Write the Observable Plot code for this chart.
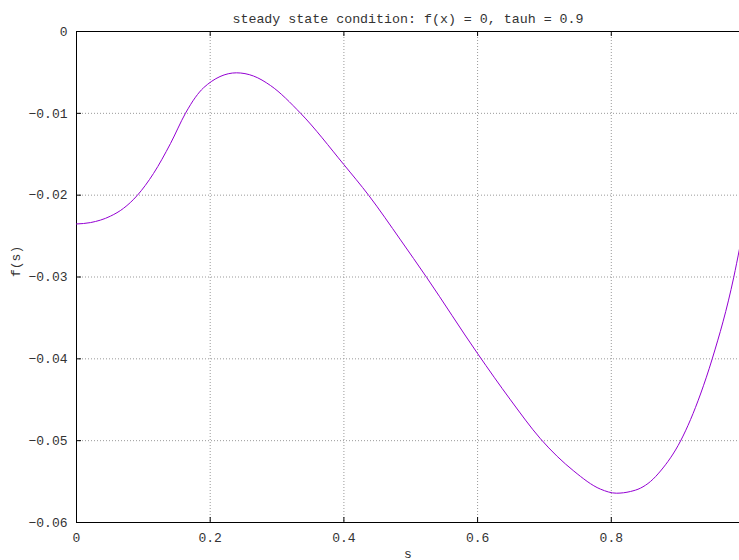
<!DOCTYPE html>
<html>
<head>
<meta charset="utf-8">
<script src="https://cdn.jsdelivr.net/npm/d3@7"></script>
<script src="https://cdn.jsdelivr.net/npm/@observablehq/plot@0.6"></script>
<style>
  html, body { margin: 0; padding: 0; background: #fff; }
  #chart svg { display: block; }
</style>
</head>
<body>
<div id="chart"></div>
<script>
const titleText = "steady state condition: f(x) = 0, tauh = 0.9";
const xLabel = "s";
const yLabel = "f(s)";
const xTicks = [0, 0.2, 0.4, 0.6, 0.8];
const yTicks = [0, -0.01, -0.02, -0.03, -0.04, -0.05, -0.06];
const sValues = [0, 0.0209, 0.0509, 0.0703, 0.0908, 0.1152, 0.1406, 0.1631, 0.1780, 0.1900,
  0.2393, 0.2648, 0.2902, 0.3351, 0.3998, 0.4373, 0.4847, 0.5236, 0.6003,
  0.6492, 0.6941, 0.7439, 0.7838, 0.8078, 0.8287, 0.8437, 0.8586, 0.8736,
  0.9036, 0.9335, 0.9510, 0.9832, 0.9918];
const fValues = [-0.02352, -0.02335, -0.02256, -0.02161, -0.02004, -0.01735, -0.01369, -0.00998, -0.00803, -0.00688,
  -0.00505, -0.00544, -0.00660, -0.00998, -0.01625, -0.02004, -0.02546, -0.03003, -0.03939,
  -0.04501, -0.04977, -0.05371, -0.05592, -0.05642, -0.05621, -0.05580, -0.05499, -0.05371,
  -0.05004, -0.04430, -0.04000, -0.03003, -0.02656];

const data = sValues.map((s, i) => ({s, f: fValues[i]}));
const xMin = 0, xMax = 0.9918, yMin = -0.06, yMax = 0;

const W = 739, H = 560;
const mL = 76, mR = 0, mT = 31, mB = 38;
const frameW = W - mL - mR, frameH = H - mT - mB;
const FONT = "'Liberation Mono', 'DejaVu Sans Mono', monospace";
const TXT = "#333";

const chart = Plot.plot({
  width: W,
  height: H,
  marginLeft: mL,
  marginRight: mR,
  marginTop: mT,
  marginBottom: mB,
  style: {fontFamily: FONT, fontSize: "13px", color: TXT, background: "#fff", overflow: "visible"},
  x: {domain: [xMin, xMax], ticks: xTicks},
  y: {domain: [yMin, yMax], ticks: yTicks},
  marks: [
    Plot.gridX(xTicks, {stroke: "#999", strokeOpacity: 1, strokeDasharray: "1,2"}),
    Plot.gridY(yTicks, {stroke: "#999", strokeOpacity: 1, strokeDasharray: "1,2"}),
    Plot.ruleY([yMin, yMax], {stroke: "#000", strokeWidth: 1}),
    Plot.ruleX([xMin], {stroke: "#000", strokeWidth: 1}),
    Plot.tickX(xTicks, {x: d => d, stroke: "#000", insetTop: frameH - 5}),
    Plot.tickX(xTicks, {x: d => d, stroke: "#000", insetBottom: frameH - 5}),
    Plot.tickY(yTicks, {y: d => d, stroke: "#000", insetRight: frameW - 5}),
    Plot.axisX(xTicks, {tickSize: 0, tickPadding: 10, label: null, fill: TXT,
      tickFormat: d => d === 0 ? "0" : d.toFixed(1)}),
    Plot.axisY(yTicks, {tickSize: 0, tickPadding: 9, label: null, fill: TXT,
      tickFormat: d => d === 0 ? "0" : "\u2212" + Math.abs(d).toFixed(2)}),
    Plot.line(data, {x: "s", y: "f", stroke: "#9400d3", strokeWidth: 1, curve: "monotone-x"}),
    Plot.text([titleText], {frameAnchor: "top", dy: -18, fill: TXT, fontSize: 13.3}),
    Plot.text([xLabel], {frameAnchor: "bottom", dy: 35, fill: TXT, fontSize: 13}),
    Plot.text([yLabel], {frameAnchor: "left", dx: -61, rotate: -90, fill: TXT, fontSize: 13})
  ]
});
document.getElementById("chart").appendChild(chart);
</script>
</body>
</html>
